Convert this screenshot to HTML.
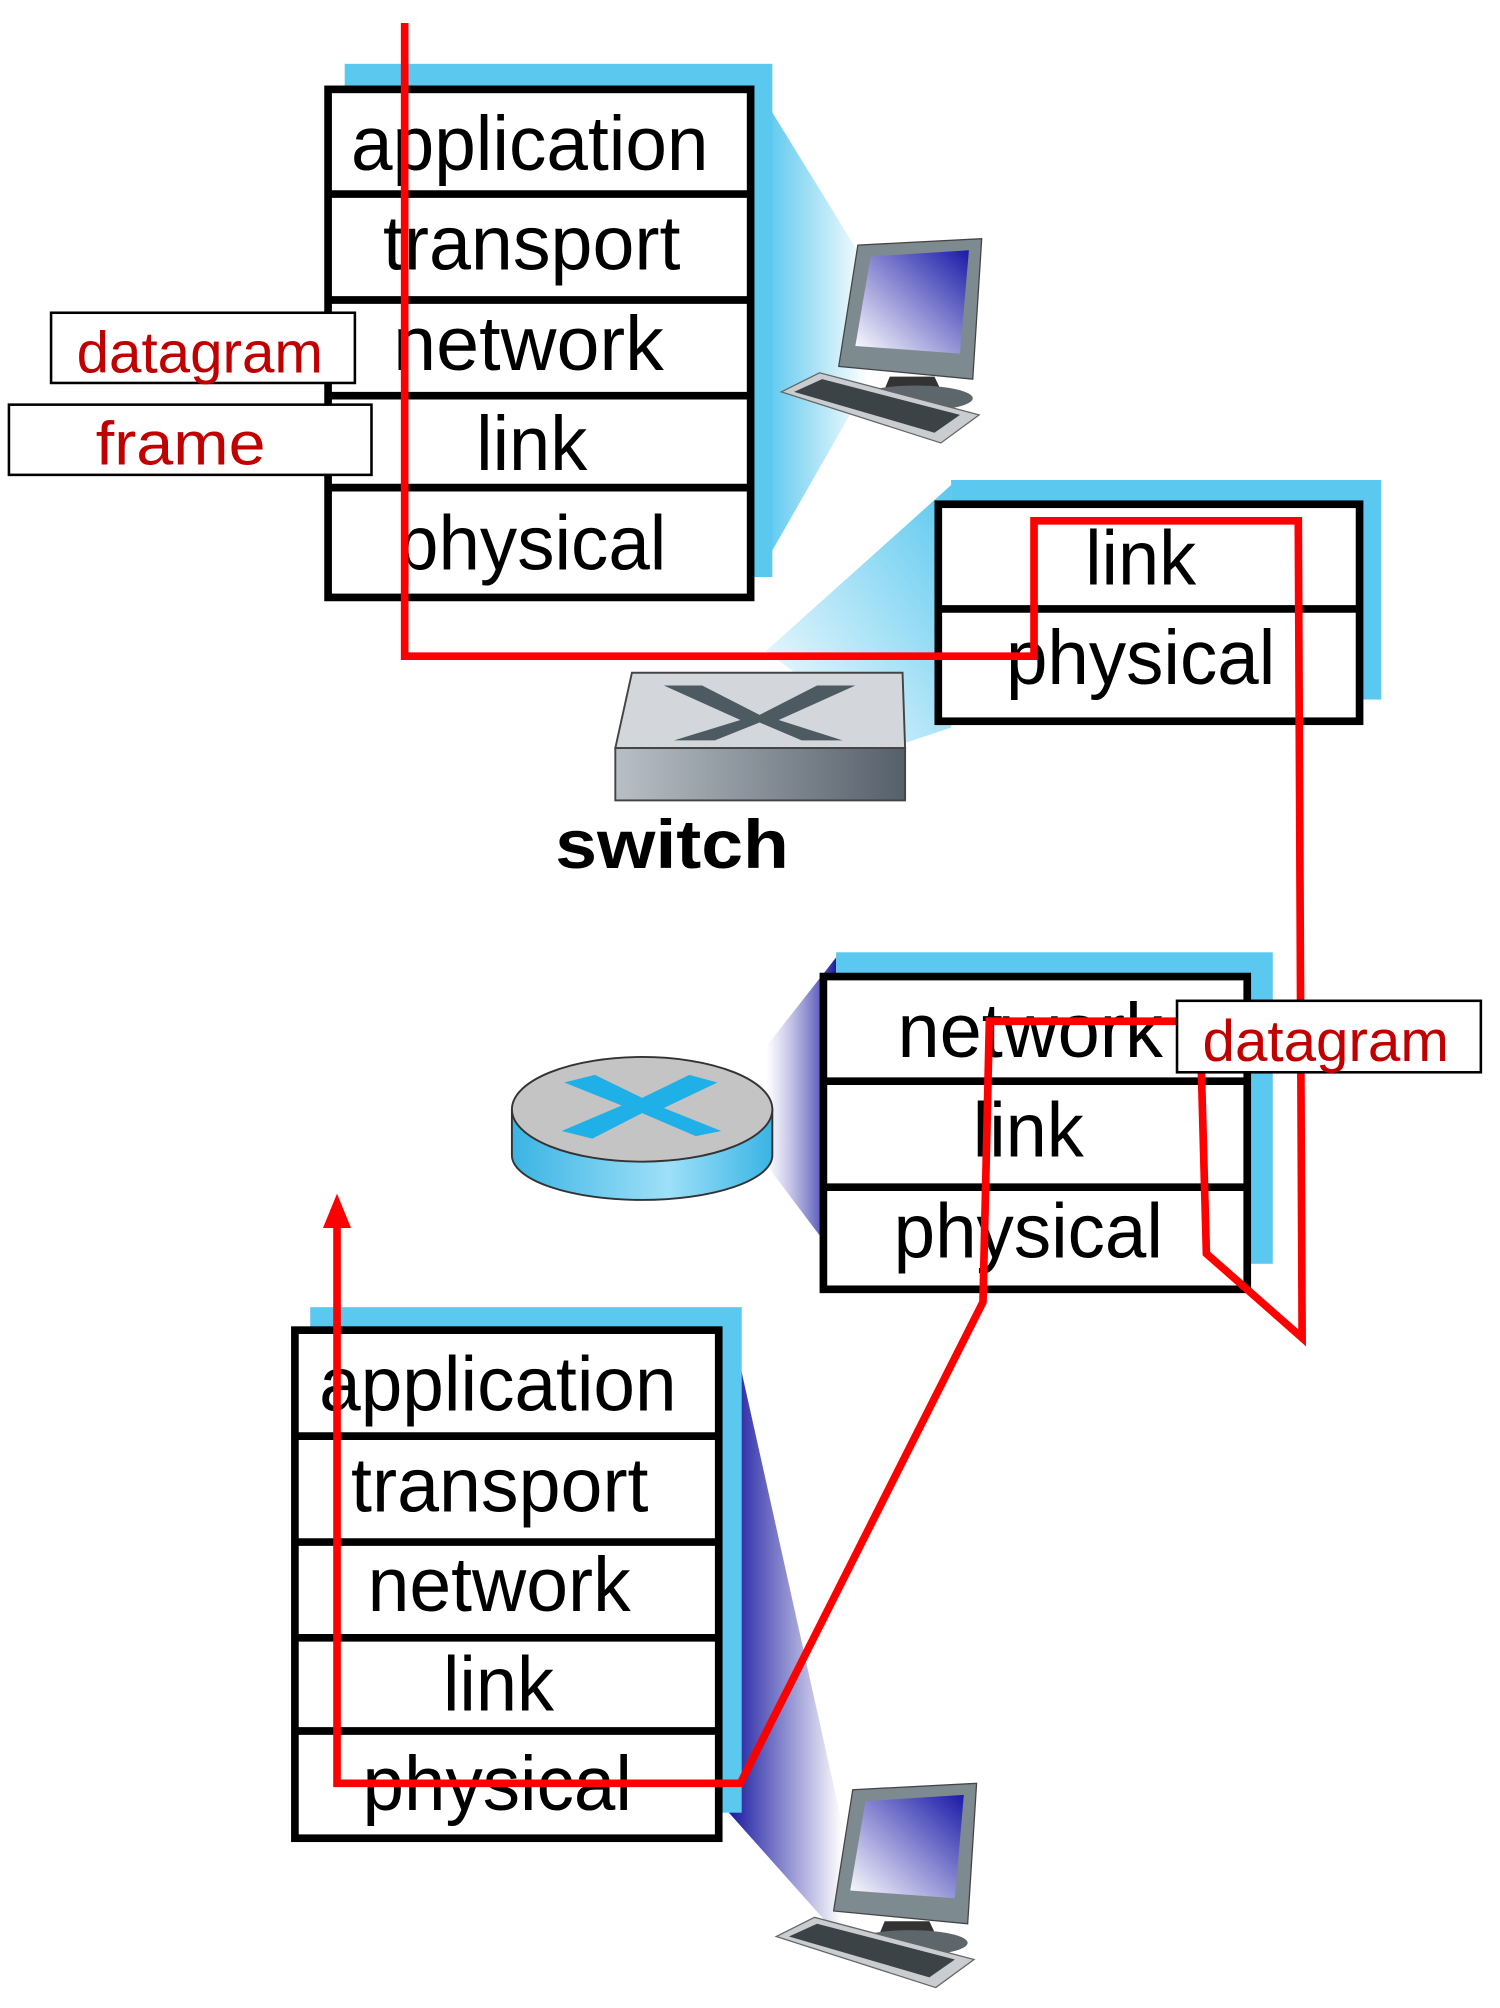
<!DOCTYPE html>
<html><head><meta charset="utf-8"><style>
html,body{margin:0;padding:0;background:#fff;}
svg{display:block;}
text{font-family:"Liberation Sans",Arial,sans-serif;}
</style></head><body>
<svg width="1500" height="2008" viewBox="0 0 1175 1573" preserveAspectRatio="none" xmlns="http://www.w3.org/2000/svg">
<defs>
<linearGradient id="lc" x1="1" y1="0" x2="0" y2="0"><stop offset="0" stop-color="#fff"/><stop offset="1" stop-color="#5bc8ef"/></linearGradient>
<linearGradient id="lc2" x1="0" y1="1" x2="1" y2="0"><stop offset="0" stop-color="#fff"/><stop offset="1" stop-color="#5bc8ef"/></linearGradient>
<linearGradient id="dc" x1="0" y1="0" x2="1" y2="0"><stop offset="0" stop-color="#fff" stop-opacity="0.6"/><stop offset="1" stop-color="#1a1aa0"/></linearGradient>
<linearGradient id="dc2" x1="0" y1="0" x2="1" y2="0"><stop offset="0" stop-color="#1a1aa0"/><stop offset="1" stop-color="#fff"/></linearGradient>
<linearGradient id="scr" x1="1" y1="0" x2="0" y2="1"><stop offset="0" stop-color="#1a1aa8"/><stop offset="1" stop-color="#fff"/></linearGradient>
<linearGradient id="sw" x1="0" y1="0" x2="1" y2="0"><stop offset="0" stop-color="#b8bfc6"/><stop offset="1" stop-color="#56606a"/></linearGradient>
<linearGradient id="rt" x1="0" y1="0" x2="1" y2="0"><stop offset="0" stop-color="#3ab4e4"/><stop offset="0.6" stop-color="#9ee0f8"/><stop offset="1" stop-color="#3ab4e4"/></linearGradient>
<g id="pc">
<polygon points="60,5 157,0 150,110 45,100" fill="#7d8a8f" stroke="#444" stroke-width="1"/>
<polygon points="70,14 147,9 140,90 58,84" fill="url(#scr)"/>
<polygon points="85,108 120,108 128,125 78,125" fill="#333"/>
<ellipse cx="105" cy="125" rx="45" ry="10" fill="#5c666b"/>
<polygon points="0,120 30,105 155,138 125,160" fill="#c9cdd0" stroke="#666" stroke-width="1"/>
<polygon points="10,120 32,110 140,138 120,152" fill="#3b4347"/>
</g>
</defs>

<polygon points="600,80 680,210 680,300 600,440" fill="url(#lc)"/>
<polygon points="745,380 745,570 700,585 600,510" fill="url(#lc2)"/>
<polygon points="655,750 655,985 600,912 600,820" fill="url(#dc)"/>
<polygon points="571,1030 660,1430 660,1520 571,1420" fill="url(#dc2)"/>

<rect x="270" y="50" width="335" height="402" fill="#5bc8ef"/>
<rect x="257" y="70" width="331" height="398" fill="#fff" stroke="#000" stroke-width="6"/>
<g stroke="#000" stroke-width="6"><line x1="257" y1="152" x2="588" y2="152"/><line x1="257" y1="235" x2="588" y2="235"/><line x1="257" y1="310" x2="588" y2="310"/><line x1="257" y1="382" x2="588" y2="382"/></g>
<g font-size="60" fill="#000" lengthAdjust="spacingAndGlyphs">
<text x="275" y="133" textLength="280" lengthAdjust="spacingAndGlyphs">application</text>
<text x="300" y="211" textLength="233" lengthAdjust="spacingAndGlyphs">transport</text>
<text x="308" y="290" textLength="212" lengthAdjust="spacingAndGlyphs">network</text>
<text x="373" y="368" textLength="87" lengthAdjust="spacingAndGlyphs">link</text>
<text x="311" y="446" textLength="211" lengthAdjust="spacingAndGlyphs">physical</text>
</g>
<rect x="40" y="245" width="238" height="55" fill="#fff" stroke="#000" stroke-width="2"/>
<text x="60" y="292" font-size="46" fill="#c00000" textLength="193" lengthAdjust="spacingAndGlyphs">datagram</text>
<rect x="7" y="317" width="284" height="55" fill="#fff" stroke="#000" stroke-width="2"/>
<text x="75" y="364" font-size="48" fill="#c00000" textLength="133" lengthAdjust="spacingAndGlyphs">frame</text>

<use href="#pc" transform="translate(612,187)"/>

<rect x="745" y="376" width="337" height="172" fill="#5bc8ef"/>
<rect x="735" y="395" width="330" height="170" fill="#fff" stroke="#000" stroke-width="6"/>
<line x1="735" y1="477" x2="1065" y2="477" stroke="#000" stroke-width="6"/>
<g font-size="60">
<text x="850" y="458" textLength="87" lengthAdjust="spacingAndGlyphs">link</text>
<text x="788" y="536" textLength="211" lengthAdjust="spacingAndGlyphs">physical</text></g>

<polygon points="495,527 707,527 709,586 482,586" fill="#d3d7db" stroke="#444" stroke-width="1.5"/>
<rect x="482" y="586" width="227" height="41" fill="url(#sw)" stroke="#444" stroke-width="1.5"/>
<polygon points="520,537 550,537 595,560 640,537 670,537 610,564 660,580 628,580 595,566 560,580 528,580 580,564" fill="#4e5a62"/>
<text x="435" y="680" font-size="54" font-weight="bold" textLength="183" lengthAdjust="spacingAndGlyphs">switch</text>

<rect x="655" y="746" width="342" height="244" fill="#5bc8ef"/>
<rect x="645" y="765" width="332" height="245" fill="#fff" stroke="#000" stroke-width="6"/>
<g stroke="#000" stroke-width="6"><line x1="645" y1="847" x2="977" y2="847"/><line x1="645" y1="930" x2="977" y2="930"/></g>
<g font-size="60">
<text x="703" y="828" textLength="208" lengthAdjust="spacingAndGlyphs">network</text>
<text x="762" y="906" textLength="87" lengthAdjust="spacingAndGlyphs">link</text>
<text x="700" y="985" textLength="211" lengthAdjust="spacingAndGlyphs">physical</text></g>

<path d="M401,869 L401,905 A102,35 0 0 0 605,905 L605,869 Z" fill="url(#rt)" stroke="#333" stroke-width="1.5"/>
<ellipse cx="503" cy="869" rx="102" ry="41" fill="#c4c4c4" stroke="#333" stroke-width="1.5"/>
<polygon points="442,848 466,842 503,860 540,842 562,848 520,868 565,886 545,890 503,872 464,892 440,886 487,866" fill="#1fb0e8"/>

<rect x="243" y="1024" width="338" height="396" fill="#5bc8ef"/>
<rect x="231" y="1042" width="332" height="398" fill="#fff" stroke="#000" stroke-width="6"/>
<g stroke="#000" stroke-width="6"><line x1="231" y1="1125" x2="563" y2="1125"/><line x1="231" y1="1208" x2="563" y2="1208"/><line x1="231" y1="1283" x2="563" y2="1283"/><line x1="231" y1="1356" x2="563" y2="1356"/></g>
<g font-size="60">
<text x="250" y="1105" textLength="280" lengthAdjust="spacingAndGlyphs">application</text>
<text x="275" y="1184" textLength="233" lengthAdjust="spacingAndGlyphs">transport</text>
<text x="288" y="1262" textLength="206" lengthAdjust="spacingAndGlyphs">network</text>
<text x="347" y="1340" textLength="87" lengthAdjust="spacingAndGlyphs">link</text>
<text x="284" y="1418" textLength="211" lengthAdjust="spacingAndGlyphs">physical</text></g>

<use href="#pc" transform="translate(608,1397)"/>

<g fill="none" stroke="#ff0000" stroke-width="6" stroke-linejoin="miter">
<polyline points="317,18 317,514 810,514 810,408 1017,408 1020,1048 945,982 940,800 775,800 770,1020 580,1397 264,1397 264,960"/>
</g>
<polygon points="253,962 275,962 264,935" fill="#ff0000"/>

<rect x="922" y="784" width="238" height="56" fill="#fff" stroke="#000" stroke-width="2"/>
<text x="942" y="831" font-size="46" fill="#c00000" textLength="193" lengthAdjust="spacingAndGlyphs">datagram</text>
</svg>
</body></html>
